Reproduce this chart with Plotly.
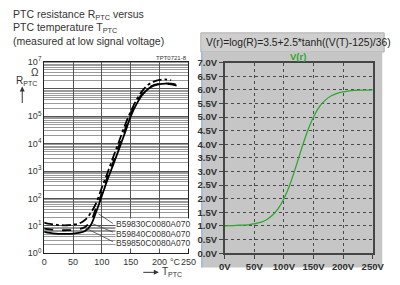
import plotly.graph_objects as go

W, H = 400, 285
def px(x): return x / W
def py(y): return 1 - y / H

# ---------------- data: left chart (datasheet) ----------------
t_830 = [0, 10, 20, 30, 40, 50, 60, 70, 80, 90, 100, 110, 120, 130, 140, 150, 160, 170, 180, 190, 200, 210, 220]
r_830 = [13.2, 11.7, 11, 10.5, 10.5, 11, 12, 16, 28, 68, 250, 890, 3400, 12600, 47000, 1.5e5, 4e5, 8.5e5, 1.41e6, 1.86e6, 2.14e6, 2.24e6, 2.09e6]

t_840 = [0, 10, 20, 30, 40, 50, 60, 70, 80, 90, 100, 110, 120, 130, 140, 150, 160, 170, 180, 190, 200, 210, 220, 230, 237]
r_840 = [7.9, 7.4, 7.1, 6.9, 6.9, 7.1, 7.6, 8.9, 14, 45, 158, 630, 2200, 8900, 32000, 1.26e5, 3.2e5, 6.6e5, 1.07e6, 1.38e6, 1.55e6, 1.58e6, 1.48e6, 1.32e6, 1.23e6]

t_850 = [0, 10, 20, 30, 40, 50, 60, 70, 80, 90, 100, 110, 120, 130, 140, 150, 160, 170, 180, 190, 200, 210, 220, 228]
r_850 = [6.0, 5.5, 5.2, 5.1, 5.1, 5.2, 5.5, 6.3, 10, 32, 126, 500, 1800, 6600, 25000, 1e5, 2.8e5, 6e5, 1e6, 1.32e6, 1.51e6, 1.58e6, 1.55e6, 1.48e6]

names = ["B59830C0080A070", "B59840C0080A070", "B59850C0080A070"]
left_xticks = [0, 50, 100, 150, 200, 250]
left_yticks = [1, 10, 100, 1e3, 1e4, 1e5, 1e6, 1e7]
left_yticktext = ["10<sup>0</sup>", "10<sup>1</sup>", "10<sup>2</sup>", "10<sup>3</sup>",
                  "10<sup>4</sup>", "10<sup>5</sup>", " ", "10<sup>7</sup>"]

# ---------------- data: right chart (simulation) ----------------
t_sim = [0, 10, 20, 30, 40, 50, 60, 70, 80, 90, 100, 110, 120, 130, 140, 150, 160, 170, 180, 190, 200, 210, 220, 230, 240, 250]
v_sim = [1.0, 1.01, 1.02, 1.03, 1.04, 1.08, 1.13, 1.22, 1.38, 1.63, 2.0, 2.51, 3.16, 3.85, 4.49, 5.0, 5.38, 5.62, 5.78, 5.87, 5.92, 5.96, 5.98, 5.99, 5.99, 6.0]
right_xticks = [0, 50, 100, 150, 200, 250]
right_xticktext = ["0V", "50V", "100V", "150V", "200V", "250V"]
right_yticks = [0, 0.5, 1, 1.5, 2, 2.5, 3, 3.5, 4, 4.5, 5, 5.5, 6, 6.5, 7]
right_yticktext = ["%.1fV" % v for v in right_yticks]

FONT = "Liberation Sans, Arial, sans-serif"
TXT = "#333333"

fig = go.Figure()

styles = [("dashdot", r_830, t_830), ("dash", r_840, t_840), ("solid", r_850, t_850)]
for (dash, r, t), nm in zip(styles, names):
    fig.add_trace(go.Scatter(x=t, y=r, mode="lines", name=nm, xaxis="x", yaxis="y",
                             line=dict(color="black", width=1.8, dash=dash, shape="spline"),
                             showlegend=False))

fig.add_trace(go.Scatter(x=t_sim, y=v_sim, mode="lines", xaxis="x2", yaxis="y2",
                         line=dict(color="#2ea82e", width=1.3, shape="spline"), showlegend=False))

shapes = []
# right panel backgrounds
shapes.append(dict(type="rect", xref="paper", yref="paper", x0=px(204), x1=px(396), y0=py(47), y1=py(27),
                   fillcolor="#cfcfcf", line=dict(color="#b0b0b0", width=1), layer="below"))
shapes.append(dict(type="rect", xref="paper", yref="paper", x0=px(205), x1=px(394), y0=py(272), y1=py(47),
                   fillcolor="#c6c6c6", line=dict(width=0), layer="below"))
shapes.append(dict(type="line", xref="paper", yref="paper", x0=px(205), x1=px(205), y0=py(272), y1=py(47),
                   line=dict(color="#9fb8d8", width=1.5), layer="below"))
# leader lines for labels (left chart)
for (x0, y0, x1, y1) in [(112, 226, 97, 216), (112, 235, 90, 226), (112, 245, 84, 231)]:
    shapes.append(dict(type="line", xref="paper", yref="paper", x0=px(x0), y0=py(y0), x1=px(x1), y1=py(y1),
                       line=dict(color="#444", width=0.8)))

ann = []
title_lines = ["PTC resistance R<sub>PTC</sub> versus", "PTC temperature T<sub>PTC</sub>",
               "(measured at low signal voltage)"]
for i, s in enumerate(title_lines):
    ann.append(dict(text=s, xref="paper", yref="paper", x=px(5), y=py(8 + 14 * i), xanchor="left",
                    yanchor="middle", showarrow=False, font=dict(family=FONT, size=10.5, color=TXT)))
ann.append(dict(text="TPT0721-8", xref="paper", yref="paper", x=px(192), y=py(53), xanchor="right",
                yanchor="middle", showarrow=False, font=dict(family=FONT, size=6, color=TXT)))
ann.append(dict(text="Ω", xref="paper", yref="paper", x=px(30), y=py(68), xanchor="center",
                yanchor="middle", showarrow=False, font=dict(family=FONT, size=10, color=TXT)))
ann.append(dict(text="R<sub>PTC</sub>", xref="paper", yref="paper", x=px(8), y=py(77), xanchor="left",
                yanchor="middle", showarrow=False, font=dict(family=FONT, size=10, color=TXT)))
ann.append(dict(text="", xref="paper", yref="paper", x=px(17), y=py(83), ax=0, ay=18,
                showarrow=True, arrowhead=2, arrowsize=1, arrowwidth=1, arrowcolor=TXT))
ann.append(dict(text="", xref="paper", yref="paper", x=px(160), y=py(277), ax=-17, ay=0,
                showarrow=True, arrowhead=2, arrowsize=1, arrowwidth=1, arrowcolor=TXT))
ann.append(dict(text="T<sub>PTC</sub>", xref="paper", yref="paper", x=px(161), y=py(277), xanchor="left",
                yanchor="middle", showarrow=False, font=dict(family=FONT, size=10, color=TXT)))
ann.append(dict(text="°C", xref="x", yref="paper", x=227, y=py(266), xanchor="center",
                yanchor="middle", showarrow=False, font=dict(family=FONT, size=9, color=TXT)))
for i, nm in enumerate(names):
    ann.append(dict(text=nm, xref="paper", yref="paper", x=px(114), y=py(227 + 9.5 * i), xanchor="left",
                    yanchor="middle", showarrow=False, bgcolor="white", borderpad=0,
                    font=dict(family=FONT, size=8.5, color=TXT)))
ann.append(dict(text="V(r)=log(R)=3.5+2.5*tanh((V(T)-125)/36)", xref="paper", yref="paper",
                x=px(207), y=py(37), xanchor="left", yanchor="middle", showarrow=False,
                font=dict(family=FONT, size=10.3, color="#222")))
ann.append(dict(text="<b>V(r)</b>", xref="paper", yref="paper", x=px(306), y=py(52), xanchor="center",
                yanchor="middle", showarrow=False, font=dict(family=FONT, size=9.5, color="#2ea82e")))

fig.update_layout(
    width=W, height=H, margin=dict(l=0, r=0, t=0, b=0),
    paper_bgcolor="white", plot_bgcolor="rgba(0,0,0,0)",
    shapes=shapes, annotations=ann,
    xaxis=dict(domain=[px(40), px(191)], range=[0, 250], anchor="y",
               tickmode="array", tickvals=left_xticks, ticktext=[str(v) for v in left_xticks],
               showgrid=True, gridcolor="#555", gridwidth=1, zeroline=False,
               showline=True, linecolor="#222", linewidth=1, mirror=True, ticks="",
               tickfont=dict(family=FONT, size=9, color=TXT)),
    yaxis=dict(domain=[py(257), py(57)], type="log", range=[0, 7], anchor="x",
               tickmode="array", tickvals=left_yticks, ticktext=left_yticktext,
               showgrid=True, gridcolor="#555", gridwidth=1, zeroline=False,
               showline=True, linecolor="#222", linewidth=1, mirror=True, ticks="",
               tickfont=dict(family=FONT, size=9, color=TXT),
               minor=dict(dtick="D1", showgrid=True, gridcolor="#9a9a9a", gridwidth=0.7, ticks="")),
    xaxis2=dict(domain=[px(229), px(384)], range=[0, 250], anchor="y2",
                tickmode="array", tickvals=right_xticks, ticktext=right_xticktext,
                showgrid=True, gridcolor="#4a4a4a", griddash="dot", gridwidth=1, zeroline=False,
                showline=True, linecolor="#454545", linewidth=1.5, mirror=True,
                ticks="outside", ticklen=4, tickcolor="#454545",
                tickfont=dict(family=FONT, size=9.5, color="#303030", weight="bold")),
    yaxis2=dict(domain=[py(257), py(58)], range=[0, 7], anchor="x2",
                tickmode="array", tickvals=right_yticks, ticktext=right_yticktext,
                showgrid=True, gridcolor="#4a4a4a", griddash="dot", gridwidth=1, zeroline=False,
                showline=True, linecolor="#454545", linewidth=1.5, mirror=True,
                ticks="outside", ticklen=4, tickcolor="#454545",
                tickfont=dict(family=FONT, size=9.5, color="#303030", weight="bold")),
)

fig.write_html("out.html")
